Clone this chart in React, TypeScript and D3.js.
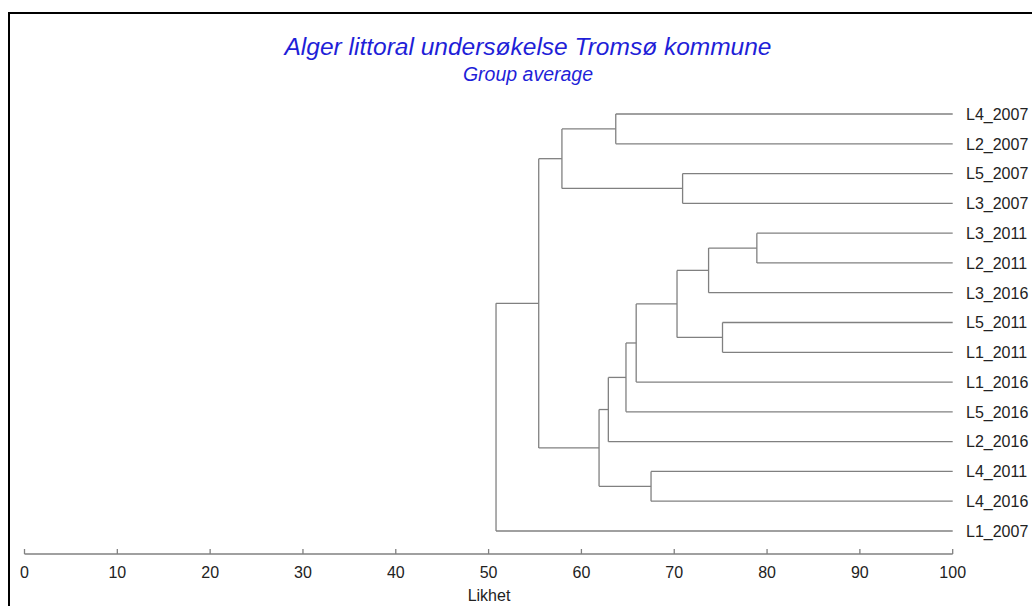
import React from "react";
import * as d3 from "d3";

const leafLabels = [
  "L4_2007", "L2_2007", "L5_2007", "L3_2007", "L3_2011", "L2_2011", "L3_2016",
  "L5_2011", "L1_2011", "L1_2016", "L5_2016", "L2_2016", "L4_2011", "L4_2016", "L1_2007",
];

// merge nodes n0..n13: children and similarity level
const mergeChildren: [string, string][] = [
  ["L4_2007", "L2_2007"],
  ["L5_2007", "L3_2007"],
  ["n0", "n1"],
  ["L3_2011", "L2_2011"],
  ["n3", "L3_2016"],
  ["L5_2011", "L1_2011"],
  ["n4", "n5"],
  ["n6", "L1_2016"],
  ["n7", "L5_2016"],
  ["n8", "L2_2016"],
  ["L4_2011", "L4_2016"],
  ["n9", "n10"],
  ["n2", "n11"],
  ["n12", "L1_2007"],
];
const mergeSimilarity = [63.7, 70.9, 57.9, 78.9, 73.7, 75.2, 70.3, 65.9, 64.8, 62.9, 67.5, 61.9, 55.4, 50.8];

const axisTicks = [0, 10, 20, 30, 40, 50, 60, 70, 80, 90, 100];

const FONT = "'Liberation Sans', Arial, sans-serif";

export default function App() {
  const x = d3.scaleLinear().domain([0, 100]).range([24.5, 952.7]);
  const y = d3.scalePoint<string>().domain(leafLabels).range([114, 531]);

  const pos: Record<string, { y: number; s: number }> = {};
  leafLabels.forEach((l) => (pos[l] = { y: y(l)!, s: 100 }));
  const segs: { x1: number; y1: number; x2: number; y2: number }[] = [];
  mergeChildren.forEach(([a, b], i) => {
    const s = mergeSimilarity[i];
    const pa = pos[a];
    const pb = pos[b];
    const xm = x(s);
    segs.push({ x1: xm, y1: pa.y, x2: xm, y2: pb.y });
    segs.push({ x1: xm, y1: pa.y, x2: x(pa.s), y2: pa.y });
    segs.push({ x1: xm, y1: pb.y, x2: x(pb.s), y2: pb.y });
    pos["n" + i] = { y: (pa.y + pb.y) / 2, s };
  });

  const axisY = 554;

  return (
    <svg
      width={1032}
      height={606}
      style={{ position: "absolute", left: 0, top: 0, background: "#fff" }}
    >
      <rect width={1032} height={606} fill="#fff" />
      <line x1={9} y1={13} x2={1032} y2={13} stroke="#000" strokeWidth={2} />
      <line x1={9} y1={12} x2={9} y2={606} stroke="#000" strokeWidth={2} />

      <text x={528} y={54.5} textAnchor="middle" fontFamily={FONT} fontStyle="italic" fontSize={24.5} fill="#1f1fd8">
        Alger littoral undersøkelse Tromsø kommune
      </text>
      <text x={528} y={81} textAnchor="middle" fontFamily={FONT} fontStyle="italic" fontSize={19.5} fill="#1f1fd8">
        Group average
      </text>

      <g stroke="#808080" strokeWidth={1.3} fill="none">
        {segs.map((s, i) => (
          <line key={i} x1={s.x1} y1={s.y1} x2={s.x2} y2={s.y2} />
        ))}
      </g>

      <g fontFamily={FONT} fontSize={16} fill="#222">
        {leafLabels.map((l) => (
          <text key={l} x={966} y={y(l)! + 5.8}>
            {l}
          </text>
        ))}
      </g>

      <g stroke="#808080" strokeWidth={1.3}>
        <line x1={x(0)} y1={axisY} x2={x(100)} y2={axisY} />
        {axisTicks.map((t) => (
          <line key={t} x1={x(t)} y1={axisY} x2={x(t)} y2={axisY - 5} />
        ))}
      </g>
      <g fontFamily={FONT} fontSize={16} fill="#222" textAnchor="middle">
        {axisTicks.map((t) => (
          <text key={t} x={x(t)} y={578}>
            {t}
          </text>
        ))}
        <text x={489} y={601}>Likhet</text>
      </g>
    </svg>
  );
}
